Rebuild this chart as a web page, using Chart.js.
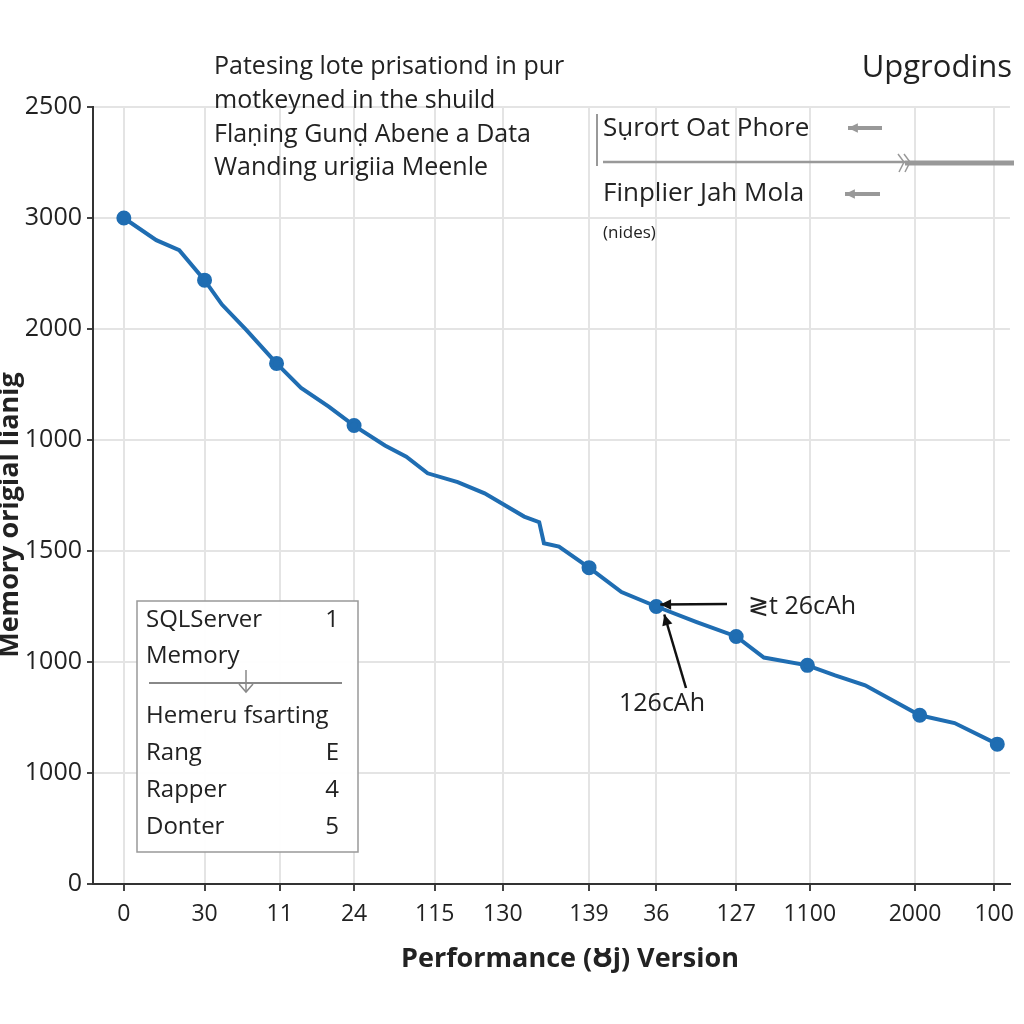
<!DOCTYPE html>
<html>
<head>
<meta charset="utf-8">
<script src="https://cdn.jsdelivr.net/npm/chart.js@4/dist/chart.umd.min.js"></script>
<style>
html,body{margin:0;padding:0;background:#fff;}
#wrap{width:1024px;height:1024px;position:relative;}
</style>
</head>
<body>
<div id="wrap"><canvas id="c" width="1024" height="1024"></canvas></div>
<script>
// ---- data ----
const xTickLabels = ["0","30","11","24","115","130","139","36","127","1100","2000","100"];
const xTickPositions = [0,1.02,1.97,2.91,3.93,4.79,5.88,6.73,7.74,8.67,10.0,11.0];
const yTickLabels = ["0","1000","1000","1500","1000","2000","3000","2500"];
const lineX = [0,0.41,0.70,1.02,1.24,1.55,1.93,2.24,2.59,2.91,3.30,3.57,3.84,4.22,4.56,5.06,5.25,5.31,5.50,5.88,6.29,6.73,7.24,7.74,8.09,8.64,8.99,9.37,10.06,10.50,11.04];
const lineY = [6.0,5.80,5.71,5.44,5.22,4.99,4.69,4.47,4.30,4.13,3.95,3.85,3.70,3.62,3.52,3.31,3.26,3.07,3.04,2.85,2.63,2.50,2.36,2.23,2.04,1.97,1.88,1.79,1.52,1.45,1.26];
const markerFlags = [1,0,0,1,0,0,1,0,0,1,0,0,0,0,0,0,0,0,0,1,0,1,0,1,0,1,0,0,1,0,1];
const noteLines = ["Patesing lote prisationd in pur","motkeyned in the shuild","Flaṇing Gunḍ Abene a Data","Wanding urigiia Meenle"];
const cornerTitle = "Upgrodins";
const sideLabels = ["Sụrort Oat Phore","Finplier Jah Mola","(nides)"];
const boxRows = [["SQLServer","1"],["Memory",""],["Hemeru fsarting",""],["Rang","E"],["Rapper","4"],["Donter","5"]];
const pointNotes = ["≷t 26cAh","126cAh"];
const xTitle = "Performance (Ȣj) Version";
const yTitle = "Memory origial lianig";

const points = lineX.map((x,i)=>({x:x,y:lineY[i]}));
const FONT = "'Open Sans', 'Noto Sans', sans-serif";

function arrow(ctx, x1, y1, x2, y2, color, w, head){
  ctx.save();
  ctx.strokeStyle=color; ctx.fillStyle=color; ctx.lineWidth=w;
  ctx.beginPath(); ctx.moveTo(x1,y1); ctx.lineTo(x2,y2); ctx.stroke();
  const a=Math.atan2(y2-y1,x2-x1);
  ctx.beginPath();
  ctx.moveTo(x2,y2);
  ctx.lineTo(x2-head*Math.cos(a-0.45), y2-head*Math.sin(a-0.45));
  ctx.lineTo(x2-head*Math.cos(a+0.45), y2-head*Math.sin(a+0.45));
  ctx.closePath(); ctx.fill();
  ctx.restore();
}

const decor = {
  id:'decor',
  afterDraw(chart){
    const ctx=chart.ctx;
    const xs=chart.scales.x, ys=chart.scales.y;
    ctx.save();
    ctx.fillStyle='#222';
    ctx.textBaseline='middle';
    // top-left note
    ctx.font="25px "+FONT;
    ctx.textAlign='left';
    noteLines.forEach((t,i)=>ctx.fillText(t,214,67+i*33.7));
    // corner title
    ctx.font="31px "+FONT;
    ctx.textAlign='right';
    ctx.fillText(cornerTitle,1012,68);
    // side labels
    ctx.textAlign='left';
    ctx.font="26px "+FONT;
    ctx.fillText(sideLabels[0],603,129);
    ctx.fillText(sideLabels[1],603,194);
    ctx.font="17px "+FONT;
    ctx.fillText(sideLabels[2],603,233);
    ctx.strokeStyle='#999'; ctx.lineWidth=2;
    ctx.beginPath(); ctx.moveTo(597,114); ctx.lineTo(597,166); ctx.stroke();
    ctx.strokeStyle='#999'; ctx.lineWidth=2.5;
    ctx.beginPath(); ctx.moveTo(603,162); ctx.lineTo(905,162); ctx.stroke();
    ctx.lineWidth=5;
    ctx.beginPath(); ctx.moveTo(905,163); ctx.lineTo(1014,163); ctx.stroke();
    ctx.lineWidth=1.5;
    ctx.beginPath(); ctx.moveTo(898,154); ctx.lineTo(904,162); ctx.lineTo(899,172); ctx.stroke();
    ctx.beginPath(); ctx.moveTo(904,154); ctx.lineTo(910,162); ctx.lineTo(905,172); ctx.stroke();
    arrow(ctx,882,128,848,128,'#999',4,11);
    arrow(ctx,880,194,845,194,'#999',4,11);
    // legend-like box
    ctx.fillStyle='rgba(255,255,255,0.95)';
    ctx.fillRect(137,601,221,251);
    ctx.strokeStyle='#999'; ctx.lineWidth=1.5;
    ctx.strokeRect(137,601,221,251);
    ctx.fillStyle='#222';
    ctx.font="24px "+FONT;
    const rowY=[620,656,716,753,790,827];
    boxRows.forEach((r,i)=>{
      ctx.textAlign='left'; ctx.fillText(r[0],146,rowY[i]);
      ctx.textAlign='right'; if(r[1]) ctx.fillText(r[1],339,rowY[i]);
    });
    ctx.strokeStyle='#888'; ctx.lineWidth=2;
    ctx.beginPath(); ctx.moveTo(149,683); ctx.lineTo(342,683); ctx.stroke();
    ctx.lineWidth=1.5;
    ctx.beginPath(); ctx.moveTo(246,670); ctx.lineTo(246,692); ctx.stroke();
    ctx.beginPath(); ctx.moveTo(239,684); ctx.lineTo(246,692); ctx.lineTo(253,684); ctx.stroke();
    // point annotations (target = data point)
    const px=xs.getPixelForValue(lineX[21]), py=ys.getPixelForValue(lineY[21]);
    arrow(ctx,727,604,px+4,py-2,'#111',2.5,12);
    arrow(ctx,686,688,px+8,py+8,'#111',2.5,12);
    ctx.fillStyle='#222';
    ctx.font="25px "+FONT;
    ctx.textAlign='left';
    ctx.fillText(pointNotes[0],748,607);
    ctx.fillText(pointNotes[1],619,704);
    // axis titles
    ctx.font="bold 27px "+FONT;
    ctx.textAlign='center';
    ctx.fillText(xTitle,570,959);
    ctx.save();
    ctx.translate(10,515);
    ctx.rotate(-Math.PI/2);
    ctx.font="bold 27px "+FONT;
    ctx.fillText(yTitle,0,0);
    ctx.restore();
    ctx.restore();
  }
};

new Chart(document.getElementById('c'),{
  type:'line',
  data:{datasets:[{
    data:points,
    borderColor:'#1f6db2',
    backgroundColor:'#1f6db2',
    borderWidth:4,
    pointRadius:markerFlags.map(f=>f?5.5:0),
    pointHoverRadius:markerFlags.map(f=>f?5.5:0),
    tension:0,
    fill:false
  }]},
  options:{
    responsive:false,
    animation:false,
    events:[],
    layout:{padding:{left:0,top:107,right:9,bottom:0}},
    plugins:{legend:{display:false},tooltip:{enabled:false}},
    scales:{
      x:{
        type:'linear',
        min:-0.39,max:11.2,
        afterBuildTicks(s){ s.ticks = xTickPositions.map(v=>({value:v})); },
        afterFit(s){ s.height=140; },
        grid:{color:'#e4e4e4',lineWidth:2,tickLength:7,tickColor:'#444'},
        border:{color:'#333',width:2},
        ticks:{autoSkip:false,maxRotation:0,padding:10,color:'#222',
          font:{family:FONT,size:23},
          callback:(v,i)=>xTickLabels[i]}
      },
      y:{
        type:'linear',
        min:0,max:7,
        afterBuildTicks(s){ s.ticks = yTickLabels.map((_,i)=>({value:i})); },
        afterFit(s){ s.width=93; },
        grid:{color:'#e4e4e4',lineWidth:2,tickLength:6,tickColor:'#444'},
        border:{color:'#333',width:2},
        ticks:{padding:5,color:'#222',
          font:{family:FONT,size:25},
          callback:(v,i)=>yTickLabels[i]}
      }
    }
  },
  plugins:[decor]
});
</script>
</body>
</html>
